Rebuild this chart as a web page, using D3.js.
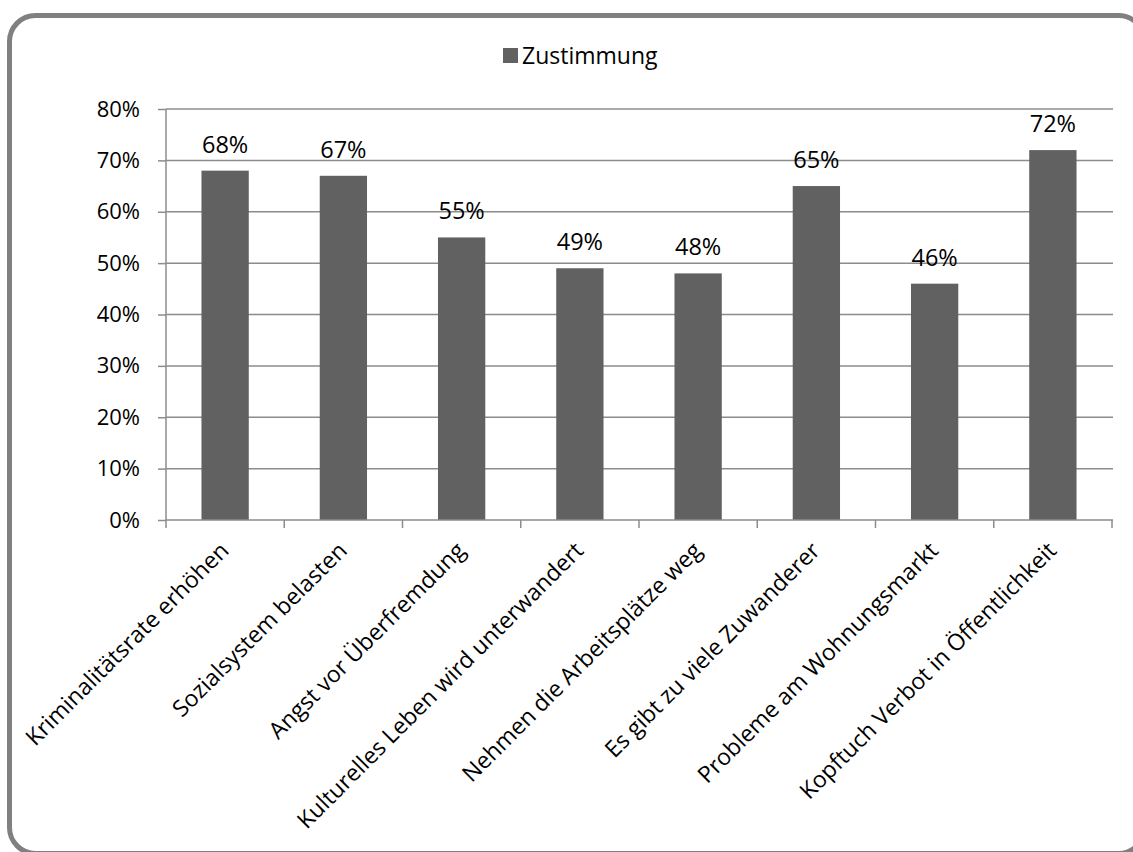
<!DOCTYPE html>
<html><head><meta charset="utf-8">
<script src="https://cdn.jsdelivr.net/npm/d3@7"></script>
<style>body{margin:0;background:#fff}svg{display:block}text{font-family:"Open Sans","Noto Sans",sans-serif;fill:#000}</style>
</head><body>
<svg id="c" width="1133" height="852"></svg>
<script>
const categories = ["Kriminalitätsrate erhöhen","Sozialsystem belasten","Angst vor Überfremdung","Kulturelles Leben wird unterwandert","Nehmen die Arbeitsplätze weg","Es gibt zu viele Zuwanderer","Probleme am Wohnungsmarkt","Kopftuch Verbot in Öffentlichkeit"];
const values = [0.68,0.67,0.55,0.49,0.48,0.65,0.46,0.72];
const seriesName = "Zustimmung";
const yTicks = [0,0.1,0.2,0.3,0.4,0.5,0.6,0.7,0.8];

const svg = d3.select("#c");
svg.append("rect").attr("x",9.5).attr("y",15.5).attr("width",1135).attr("height",838)
  .attr("rx",26).attr("fill","#fff").attr("stroke","#808080").attr("stroke-width",5);

const x = d3.scaleBand().domain(categories).range([166,1112]).paddingInner(0.6).paddingOuter(0.3);
const y = d3.scaleLinear().domain([0,0.8]).range([520,109]);
const fmt = d3.format(".0%");

// gridlines
svg.append("g").selectAll("line").data(yTicks.slice(1)).join("line")
  .attr("x1",166).attr("x2",1113).attr("y1",d=>y(d)).attr("y2",d=>y(d))
  .attr("stroke","#8c8c8c").attr("stroke-width",1.5);

// y axis
const ya = svg.append("g").attr("transform","translate(166,0)")
  .call(d3.axisLeft(y).tickValues(yTicks).tickFormat(fmt).tickSize(8).tickPadding(18));
ya.select(".domain").attr("stroke","#8c8c8c").attr("stroke-width",1.5).attr("d","M0,109V520");
ya.selectAll(".tick line").attr("stroke","#8c8c8c").attr("stroke-width",1.5);
ya.selectAll(".tick text").style("font-size","22px").style("font-family","'Open Sans',sans-serif").attr("fill","#000");

// bars
svg.append("g").selectAll("rect").data(values).join("rect")
  .attr("x",(d,i)=>x(categories[i])).attr("width",x.bandwidth())
  .attr("y",d=>y(d)).attr("height",d=>y(0)-y(d)).attr("fill","#616161");

// x axis
const step = x.step();
svg.append("line").attr("x1",166).attr("x2",1113).attr("y1",520).attr("y2",520)
  .attr("stroke","#8c8c8c").attr("stroke-width",1.5);
const bounds = d3.range(categories.length+1).map(i=>166+i*step);
svg.append("g").selectAll("line").data(bounds).join("line")
  .attr("x1",d=>d).attr("x2",d=>d).attr("y1",520).attr("y2",528)
  .attr("stroke","#8c8c8c").attr("stroke-width",1.5);

// data labels
svg.append("g").selectAll("text").data(values).join("text")
  .attr("x",(d,i)=>x(categories[i])+x.bandwidth()/2).attr("y",d=>y(d)-18)
  .attr("text-anchor","middle").style("font-size","23.5px").text(d=>fmt(d));

// category labels
svg.append("g").selectAll("text").data(categories).join("text")
  .attr("transform",d=>`translate(${x(d)+x.bandwidth()/2+5},${552}) rotate(-45)`)
  .attr("text-anchor","end").style("font-size","23px").text(d=>d);

// legend
svg.append("rect").attr("x",503).attr("y",48).attr("width",15).attr("height",15).attr("fill","#616161");
svg.append("text").attr("x",522).attr("y",64).style("font-size","23px").text(seriesName);
</script>
</body></html>
